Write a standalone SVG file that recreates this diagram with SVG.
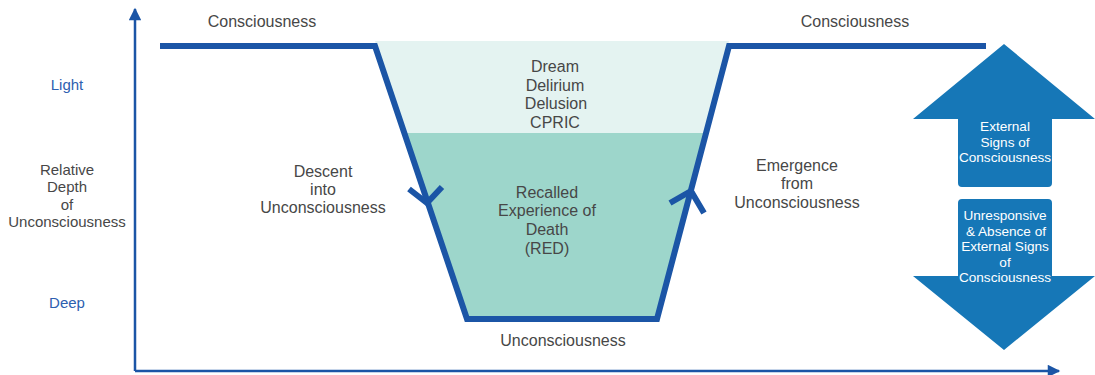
<svg xmlns="http://www.w3.org/2000/svg" width="1095" height="375" viewBox="0 0 1095 375">
<style>
.t{font-family:"Liberation Sans",Arial,sans-serif;font-size:16px;fill:#474747;text-anchor:middle}
.b{fill:#2d60b0;font-size:15px}
.w{font-family:"Liberation Sans",Arial,sans-serif;font-size:13.6px;fill:#ffffff;text-anchor:middle}
.ln{fill:none;stroke:#1b55a6;stroke-width:6;stroke-linejoin:miter}
.ax{fill:none;stroke:#1b55a6;stroke-width:2.5}
.ar{fill:#1677b7}
</style>
<defs>
<marker id="ah" viewBox="0 0 10 10" refX="9" refY="5" markerWidth="6" markerHeight="5" markerUnits="strokeWidth" orient="auto">
<path d="M0,0 L10,5 L0,10 Z" fill="#1b55a6"/>
</marker>
</defs>
<rect width="1095" height="375" fill="#ffffff"/>
<g id="fills">
<polygon points="375,41 729,41 706,133 404,133" fill="#e4f3f1"/>
<polygon points="404,133 706,133 655,319 467,319" fill="#9dd6cb"/>
</g>
<g id="connectors">
<line class="ax" x1="135" y1="371" x2="135" y2="9" marker-end="url(#ah)"/>
<line class="ax" x1="135" y1="371" x2="1059" y2="371" marker-end="url(#ah)"/>
<polyline class="ln" points="160,46 375,46 467,319 657,319 729,46 986,46"/>
<polyline class="ln" points="409,189 427,203 442,187" stroke-width="5"/>
<polyline class="ln" points="670,203 691,191 704,213" stroke-width="5"/>
</g>
<g id="labels">
<text class="t" x="262" y="27">Consciousness</text>
<text class="t" x="855" y="27">Consciousness</text>
<text class="t b" x="67" y="90">Light</text>
<text class="t b" x="67" y="308">Deep</text>
<text class="t" style="font-size:15px" x="67" y="175">Relative</text>
<text class="t" style="font-size:15px" x="67" y="192">Depth</text>
<text class="t" style="font-size:15px" x="67" y="210">of</text>
<text class="t" style="font-size:15px" x="67" y="227">Unconsciousness</text>
<text class="t" x="323" y="177">Descent</text>
<text class="t" x="323" y="195">into</text>
<text class="t" x="323" y="213">Unconsciousness</text>
<text class="t" x="797" y="171">Emergence</text>
<text class="t" x="797" y="189">from</text>
<text class="t" x="797" y="208">Unconsciousness</text>
<text class="t" x="555" y="72">Dream</text>
<text class="t" x="555" y="91">Delirium</text>
<text class="t" x="556" y="109">Delusion</text>
<text class="t" x="555" y="128">CPRIC</text>
<text class="t" x="547" y="198">Recalled</text>
<text class="t" x="547" y="216">Experience of</text>
<text class="t" x="547" y="235">Death</text>
<text class="t" x="547" y="254">(RED)</text>
<text class="t" x="563" y="346">Unconsciousness</text>
</g>
<g id="up-arrow">
<path class="ar" d="M1004,44 L1095,119 L1052,119 L1052,183 Q1052,187 1048,187 L962,187 Q958,187 958,183 L958,119 L913,119 Z"/>
<text class="w" x="1005" y="131">External</text>
<text class="w" x="1005" y="147">Signs of</text>
<text class="w" x="1005" y="162">Consciousness</text>
</g>
<g id="down-arrow">
<path class="ar" d="M962,199 L1048,199 Q1052,199 1052,203 L1052,276 L1095,276 L1004,350 L913,276 L958,276 L958,203 Q958,199 962,199 Z"/>
<text class="w" x="1005" y="220">Unresponsive</text>
<text class="w" x="1006" y="236">&amp; Absence of</text>
<text class="w" x="1005" y="251">External Signs</text>
<text class="w" x="1005" y="267">of</text>
<text class="w" x="1005" y="282">Consciousness</text>
</g>
</svg>
